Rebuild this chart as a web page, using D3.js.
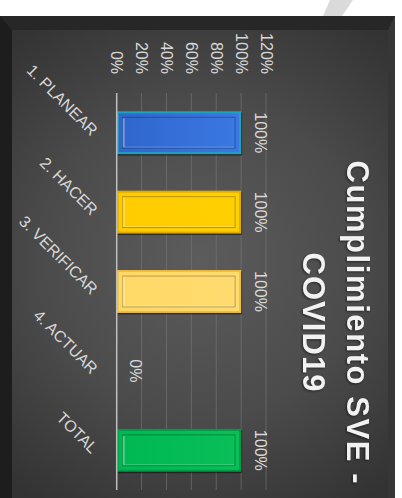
<!DOCTYPE html>
<html>
<head>
<meta charset="utf-8">
<script src="https://cdn.jsdelivr.net/npm/d3@7"></script>
<style>
  html, body { margin: 0; padding: 0; background: #ffffff; }
  svg { display: block; }
</style>
</head>
<body>
<svg id="chart" width="402" height="498"></svg>
<script>
// ---- data ----
const categories = ["1. PLANEAR", "2. HACER", "3. VERIFICAR", "4. ACTUAR", "TOTAL"];
const values = [1, 1, 1, 0, 1];
const dataLabels = ["100%", "100%", "100%", "0%", "100%"];
const tickValues = [0, 0.2, 0.4, 0.6, 0.8, 1.0, 1.2];
const tickLabels = ["0%", "20%", "40%", "60%", "80%", "100%", "120%"];
const barFills = ["#2f66cc", "#ffcc00", "#ffd966", "#4472c4", "#00b852"];
const barFillsLight = ["#3b78e2", "#ffd000", "#ffdb70", "#5a86d6", "#08bf58"];
const barEdges = ["#1fa2bf", "#e0aa00", "#f0bf40", "#2f5597", "#009a44"];
const titleLines = ["Cumplimiento SVE -", "COVID19"];

const svg = d3.select("#chart");
const W = 402, H = 498;
const defs = svg.append("defs");

// ---- background panel ----
const bg = defs.append("radialGradient").attr("id", "bgGrad")
  .attr("gradientUnits", "userSpaceOnUse")
  .attr("cx", 200).attr("cy", 260).attr("r", 290);
bg.append("stop").attr("offset", "0%").attr("stop-color", "#5c5c5c");
bg.append("stop").attr("offset", "55%").attr("stop-color", "#4b4b4b");
bg.append("stop").attr("offset", "100%").attr("stop-color", "#333333");

svg.append("polygon").attr("points", "330,0 353,0 342,16 323,16").attr("fill", "#dadada");
svg.append("rect").attr("x", 0).attr("y", 16).attr("width", 395).attr("height", H - 16).attr("fill", "#2e2e2e");
svg.append("rect").attr("x", 12).attr("y", 30).attr("width", 376).attr("height", H - 30).attr("fill", "url(#bgGrad)");
svg.append("polygon").attr("points", "0,16 395,16 388,30 12,30").attr("fill", "#272727");
svg.append("polygon").attr("points", "0,16 12,30 12,498 0,498").attr("fill", "#1d1d1d");
svg.append("polygon").attr("points", "395,16 395,498 388,498 388,30").attr("fill", "#363636");

// ---- scales ----
const x = d3.scaleLinear().domain([0, 1.2]).range([116.7, 266]);
const y = d3.scaleBand().domain(categories).range([93, 490])
  .paddingInner(0.46).paddingOuter(0.23);

// gridlines
svg.append("g").selectAll("line").data(tickValues.slice(1)).join("line")
  .attr("x1", d => x(d)).attr("x2", d => x(d))
  .attr("y1", 93).attr("y2", 490)
  .attr("stroke", "#7a7a7a").attr("stroke-opacity", 0.6).attr("stroke-width", 1);

// tick labels
svg.append("g").selectAll("text").data(tickValues).join("text")
  .attr("transform", d => `translate(${x(d) - 5.5},74) rotate(90)`)
  .attr("text-anchor", "end")
  .attr("font-family", "Liberation Sans, Arial, sans-serif")
  .attr("font-size", 16).attr("fill", "#d9d9d9")
  .text((d, i) => tickLabels[i]);

// bars
categories.forEach((c, i) => {
  const g = defs.append("linearGradient").attr("id", "bar" + i)
    .attr("x1", "0%").attr("x2", "100%").attr("y1", "0%").attr("y2", "0%");
  g.append("stop").attr("offset", "0%").attr("stop-color", barFills[i]);
  g.append("stop").attr("offset", "100%").attr("stop-color", barFillsLight[i]);
});

const bars = svg.append("g");
values.forEach((v, i) => {
  if (v <= 0) return;
  const x0 = x(0), x1 = x(v), y0 = y(categories[i]), bh = y.bandwidth();
  const w = x1 - x0;
  bars.append("rect").attr("x", x0 + 1).attr("y", y0 + 1.5).attr("width", w).attr("height", bh)
    .attr("fill", "#000").attr("opacity", 0.45);
  bars.append("rect").attr("x", x0).attr("y", y0).attr("width", w).attr("height", bh)
    .attr("fill", barEdges[i]);
  bars.append("rect").attr("x", x0 + 2).attr("y", y0 + 2).attr("width", w - 4).attr("height", bh - 4)
    .attr("fill", `url(#bar${i})`);
  const ins = 6;
  bars.append("rect").attr("x", x0 + ins).attr("y", y0 + ins).attr("width", w - 2 * ins).attr("height", bh - 2 * ins)
    .attr("fill", "none").attr("stroke", "#000").attr("stroke-opacity", 0.28).attr("stroke-width", 1);
  bars.append("line").attr("x1", x0 + ins + 1).attr("x2", x0 + ins + 1)
    .attr("y1", y0 + ins + 1).attr("y2", y0 + bh - ins - 1)
    .attr("stroke", "#fff").attr("stroke-opacity", 0.35).attr("stroke-width", 2);
  bars.append("line").attr("x1", x0 + ins + 1).attr("x2", x1 - ins - 1)
    .attr("y1", y0 + bh - ins - 1).attr("y2", y0 + bh - ins - 1)
    .attr("stroke", "#fff").attr("stroke-opacity", 0.25).attr("stroke-width", 1);
});

// zero axis line
svg.append("line").attr("x1", x(0)).attr("x2", x(0)).attr("y1", 93).attr("y2", 490)
  .attr("stroke", "#bfbfbf").attr("stroke-width", 1.5);

// data labels
svg.append("g").selectAll("text").data(values).join("text")
  .attr("transform", (d, i) => `translate(${x(d) + 13.7},${y(categories[i]) + y.bandwidth() / 2}) rotate(90)`)
  .attr("text-anchor", "middle")
  .attr("font-family", "Liberation Sans, Arial, sans-serif")
  .attr("font-size", 16).attr("fill", "#d9d9d9")
  .text((d, i) => dataLabels[i]);

// category labels
svg.append("g").selectAll("text").data(categories).join("text")
  .attr("transform", d => `translate(95,${y(d) + y.bandwidth() / 2}) rotate(45)`)
  .attr("text-anchor", "end").attr("dy", "0.35em")
  .attr("font-family", "Liberation Sans, Arial, sans-serif")
  .attr("font-size", 16).attr("fill", "#d9d9d9")
  .text(d => d);

// title
const titleX = [347, 303];
const titleLen = [323, 139];
titleLines.forEach((t, i) => {
  svg.append("text")
    .attr("transform", `translate(${titleX[i]},322) rotate(90)`)
    .attr("text-anchor", "middle")
    .attr("font-family", "Liberation Sans, Arial, sans-serif")
    .attr("font-weight", "bold").attr("font-size", 31)
    .attr("fill", "#f2f2f2")
    .attr("textLength", titleLen[i]).attr("lengthAdjust", "spacing")
    .style("filter", "drop-shadow(1px 1px 1px rgba(0,0,0,0.5))")
    .text(t);
});
</script>
</body>
</html>
